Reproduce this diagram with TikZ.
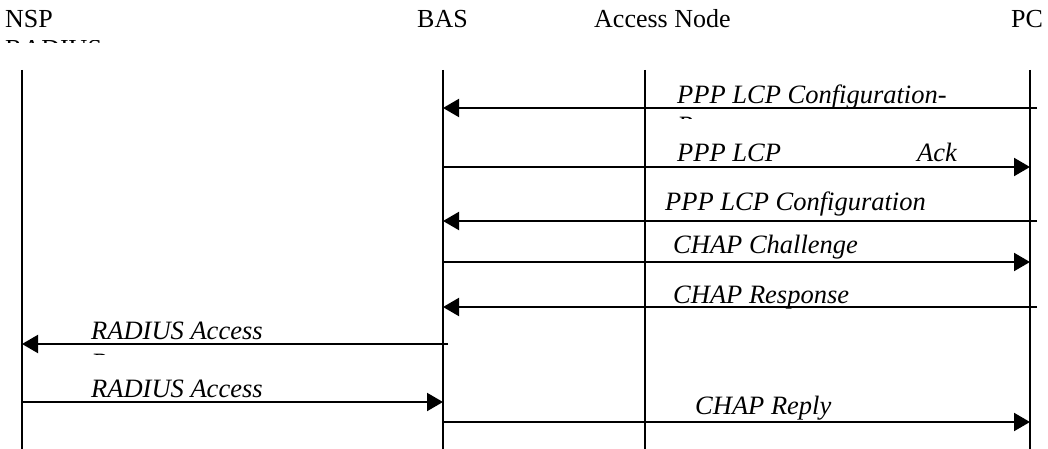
\documentclass[tikz,border=0pt]{standalone}
\usepackage{fontspec}
\setmainfont{Liberation Serif}
\usetikzlibrary{arrows.meta}
\begin{document}
\begin{tikzpicture}[x=1pt,y=-1pt,
  head/.style={anchor=base west,inner sep=0pt,font=\fontsize{26}{30}\selectfont},
  lbl/.style={anchor=base west,inner sep=0pt,font=\fontsize{26.5}{30}\selectfont\itshape},
  life/.style={line width=2pt},
  msg/.style={line width=2pt,-{Triangle[length=16pt,width=18pt]}}]
\useasboundingbox (0,0) rectangle (1048,449);
% headers
\node[head] (nsp) at (5,28) {NSP};
\node[head] (bas) at (417,28) {BAS};
\node[head] (an) at (594,28) {Access Node};
\node[head] (pc) at (1011,28) {PC};
\begin{scope}
  \clip (0,40.5) rectangle (130,43);
  \node[head] (rad) at (5,58) {RADIUS};
\end{scope}
% lifelines
\coordinate (nspT) at (22,70);  \coordinate (nspB) at (22,449);
\coordinate (basT) at (443,70); \coordinate (basB) at (443,449);
\coordinate (anT) at (645,70);  \coordinate (anB) at (645,449);
\coordinate (pcT) at (1030,70); \coordinate (pcB) at (1030,449);
\draw[life] (nspT) -- (nspB);
\draw[life] (basT) -- (basB);
\draw[life] (anT) -- (anB);
\draw[life] (pcT) -- (pcB);
% message rows
\coordinate (m1) at (0,108);
\coordinate (m2) at (0,167);
\coordinate (m3) at (0,221);
\coordinate (m4) at (0,262);
\coordinate (m5) at (0,307);
\coordinate (m6) at (0,344);
\coordinate (m7) at (0,402);
\coordinate (m8) at (0,422);
% arrows
\draw[msg] ([xshift=7pt]pcT |- m1) -- (basT |- m1);
\draw[msg] (basT |- m2) -- (pcT |- m2);
\draw[msg] ([xshift=7pt]pcT |- m3) -- (basT |- m3);
\draw[msg] (basT |- m4) -- (pcT |- m4);
\draw[msg] ([xshift=7pt]pcT |- m5) -- (basT |- m5);
\draw[msg] ([xshift=5pt]basT |- m6) -- (nspT |- m6);
\draw[msg] (nspT |- m7) -- (basT |- m7);
\draw[msg] (basT |- m8) -- (pcT |- m8);
% labels
\node[lbl] (l1) at (677,104) {PPP LCP Configuration-};
\begin{scope}
  \clip (676,116.5) rectangle (692,118.5);
  \node[lbl] (l1b) at (677,135) {Request};
\end{scope}
\node[lbl] (l2a) at (677,162) {PPP LCP};
\node[lbl] (l2b) at (917,162) {Ack};
\node[lbl] (l3) at (665,210) {PPP LCP Configuration};
\node[lbl] (l4) at (673,253) {CHAP Challenge};
\node[lbl] (l5) at (673,303) {CHAP Response};
\node[lbl] (l6) at (91,339) {RADIUS Access};
\begin{scope}
  \clip (90,352.5) rectangle (106,354.5);
  \node[lbl] (l6b) at (91,371) {Request};
\end{scope}
\node[lbl] (l7) at (91,397) {RADIUS Access};
\node[lbl] (l8) at (695,414) {CHAP Reply};
\end{tikzpicture}
\end{document}
